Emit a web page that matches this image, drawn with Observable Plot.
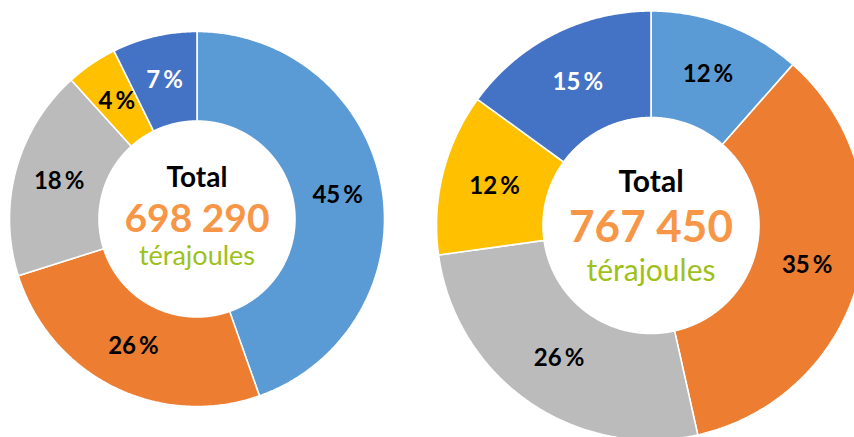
<!DOCTYPE html>
<html>
<head>
<meta charset="utf-8">
<script src="https://cdn.jsdelivr.net/npm/d3@7"></script>
<script src="https://cdn.jsdelivr.net/npm/@observablehq/plot@0.6"></script>
<style>
  html, body { margin: 0; padding: 0; background: #fff; overflow: hidden; }
  #chart svg { display: block; }
</style>
</head>
<body>
<div id="chart"></div>
<script>
// ---- data ----
const categories = ["Catégorie 1", "Catégorie 2", "Catégorie 3", "Catégorie 4", "Catégorie 5"];
const sliceColors = ["#5B9BD5", "#ED7D31", "#BBBBBB", "#FFC000", "#4472C4"];
const labelColors = ["#000000", "#000000", "#000000", "#000000", "#FFFFFF"];
const leftValues = [44.6, 25.5, 18.2, 4.4, 7.3];
const rightValues = [11.5, 35.0, 26.3, 12.2, 15.0];
const totals = [698290, 767450];
const totalTitle = "Total";
const unitLabel = "térajoules";

// ---- layout ----
const W = 854, H = 437;
const donuts = [
  {values: leftValues, total: totals[0], cx: 196.5, cy: 218.5, r0: 98, r1: 187.5,
   fTitle: 28, fTotal: 39, fUnit: 27, yTitle: 186, yTotal: 231, yUnit: 264},
  {values: rightValues, total: totals[1], cx: 650.5, cy: 225, r0: 108, r1: 214.5,
   fTitle: 30, fTotal: 44, fUnit: 30, yTitle: 191, yTotal: 241, yUnit: 280}
];

const fmt = d3.formatLocale({decimal: ",", thousands: " ", grouping: [3], currency: ["", " €"]}).format(",d");

const marks = [];
const labels = [];
const centerTexts = [];

donuts.forEach((dn, di) => {
  const sum = d3.sum(dn.values);
  let acc = 0;
  dn.values.forEach((v, i) => {
    const a0 = acc / sum * 2 * Math.PI;
    acc += v;
    const a1 = acc / sum * 2 * Math.PI;
    const steps = Math.max(2, Math.ceil((a1 - a0) / (Math.PI / 360)));
    const pts = [];
    for (let k = 0; k <= steps; k++) {
      const a = a0 + (a1 - a0) * k / steps;
      pts.push({x: dn.cx + dn.r1 * Math.sin(a), y: dn.cy - dn.r1 * Math.cos(a)});
    }
    for (let k = steps; k >= 0; k--) {
      const a = a0 + (a1 - a0) * k / steps;
      pts.push({x: dn.cx + dn.r0 * Math.sin(a), y: dn.cy - dn.r0 * Math.cos(a)});
    }
    pts.push(pts[0]);
    marks.push(Plot.line(pts, {x: "x", y: "y", fill: sliceColors[i], stroke: "white",
      strokeWidth: 1.6, strokeLinejoin: "miter", curve: "linear", clip: true}));
    const am = (a0 + a1) / 2, rm = (dn.r0 + dn.r1) / 2;
    labels.push({
      x: dn.cx + rm * Math.sin(am), y: dn.cy - rm * Math.cos(am),
      text: Math.round(v / sum * 100) + "\u2009%", color: labelColors[i], cat: categories[i]
    });
  });
  centerTexts.push({x: dn.cx, y: dn.yTitle, text: totalTitle, size: dn.fTitle, color: "#000000", weight: "bold"});
  centerTexts.push({x: dn.cx, y: dn.yTotal, text: fmt(dn.total), size: dn.fTotal, color: "#F79646", weight: "bold"});
  centerTexts.push({x: dn.cx, y: dn.yUnit, text: unitLabel, size: dn.fUnit, color: "#9DC11A", weight: "normal"});
});

marks.push(Plot.text(labels, {x: "x", y: "y", text: "text", fill: "color", fontSize: 24,
  fontWeight: "bold", textAnchor: "middle", lineAnchor: "middle", fontFamily: "Lato"}));

centerTexts.forEach(t => {
  marks.push(Plot.text([t], {x: "x", y: "y", text: "text", fill: t.color, fontSize: t.size,
    fontWeight: t.weight, textAnchor: "middle", lineAnchor: "bottom", fontFamily: "Lato"}));
});

const plot = Plot.plot({
  width: W, height: H,
  margin: 0,
  x: {domain: [0, W], range: [0, W], axis: null},
  y: {domain: [0, H], range: [0, H], axis: null},
  style: {background: "white", fontFamily: "Lato"},
  marks
});
document.getElementById("chart").appendChild(plot);
</script>
</body>
</html>
